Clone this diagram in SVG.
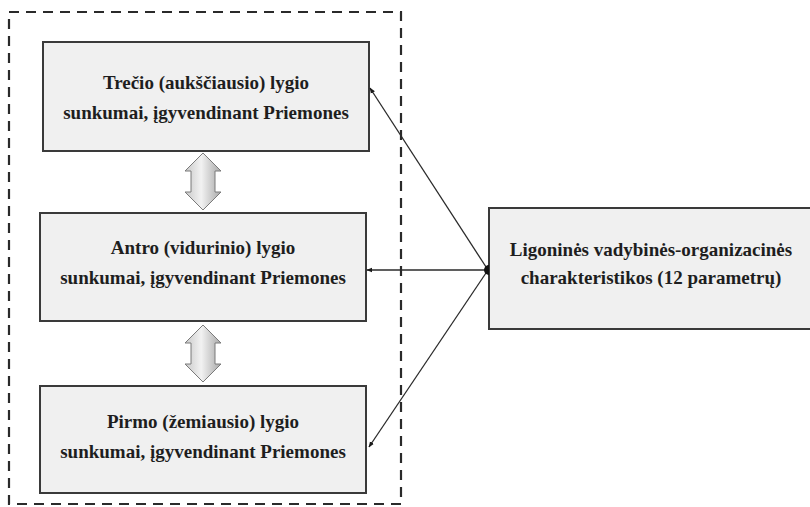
<svg xmlns="http://www.w3.org/2000/svg" width="810" height="507" viewBox="0 0 810 507">
  <style>
    .box { fill: #f0f0f0; stroke: #3a3a3a; stroke-width: 2; }
    .lbl { font-family: "Liberation Serif", "Times New Roman", serif; font-weight: bold; font-size: 19px; fill: #1e1e1e; text-anchor: middle; }
    .conn { stroke: #2a2a2a; stroke-width: 1.3; fill: none; marker-end: url(#tip); }
    .dbl { fill: url(#grey); stroke: #7a7a7a; stroke-width: 1; }
  </style>
  <defs>
    <marker id="tip" viewBox="0 0 10 10" refX="9" refY="5" markerWidth="6" markerHeight="6" orient="auto" markerUnits="userSpaceOnUse">
      <path d="M0,1 L10,5 L0,9 z" fill="#1a1a1a"/>
    </marker>
    <linearGradient id="grey" x1="0" y1="0" x2="1" y2="0">
      <stop offset="0" stop-color="#c8c8c8"/>
      <stop offset="0.45" stop-color="#f2f2f2"/>
      <stop offset="1" stop-color="#a8a8a8"/>
    </linearGradient>
  </defs>

  <!-- dashed frame around the three levels -->
  <rect x="9" y="12" width="392" height="492" fill="none" stroke="#2a2a2a" stroke-width="2.2" stroke-dasharray="10,7"/>

  <g id="level3">
    <rect class="box" x="43" y="42" width="326" height="109"/>
    <text class="lbl" x="206" y="89">Trečio (aukščiausio) lygio</text>
    <text class="lbl" x="206" y="119">sunkumai, įgyvendinant  Priemones</text>
  </g>

  <g id="level2">
    <rect class="box" x="40" y="213" width="326" height="108"/>
    <text class="lbl" x="203" y="254">Antro (vidurinio) lygio</text>
    <text class="lbl" x="203" y="284">sunkumai, įgyvendinant  Priemones</text>
  </g>

  <g id="level1">
    <rect class="box" x="40" y="386" width="326" height="107"/>
    <text class="lbl" x="203" y="428">Pirmo (žemiausio) lygio</text>
    <text class="lbl" x="203" y="458">sunkumai, įgyvendinant  Priemones</text>
  </g>

  <g id="hospital">
    <rect class="box" x="489" y="208" width="322" height="121"/>
    <text class="lbl" x="651" y="256">Ligoninės vadybinės-organizacinės</text>
    <text class="lbl" x="651" y="284">charakteristikos (12 parametrų)</text>
  </g>

  <g id="connectors">
    <!-- two-way arrows between levels -->
    <path class="dbl" d="M203,153 L221,171 L215,171 L215,192 L221,192 L203,210 L185,192 L191,192 L191,171 L185,171 z"/>
    <path class="dbl" d="M203,325 L221,343 L215,343 L215,364 L221,364 L203,382 L185,364 L191,364 L191,343 L185,343 z"/>
    <!-- links from the hospital characteristics to each level -->
    <line class="conn" x1="488" y1="270" x2="370" y2="88"/>
    <line class="conn" x1="488" y1="270" x2="367" y2="270"/>
    <line class="conn" x1="488" y1="270" x2="369" y2="447"/>
    <path d="M489,265 A5,5 0 0 0 489,275 z" fill="#111"/>
  </g>
</svg>
